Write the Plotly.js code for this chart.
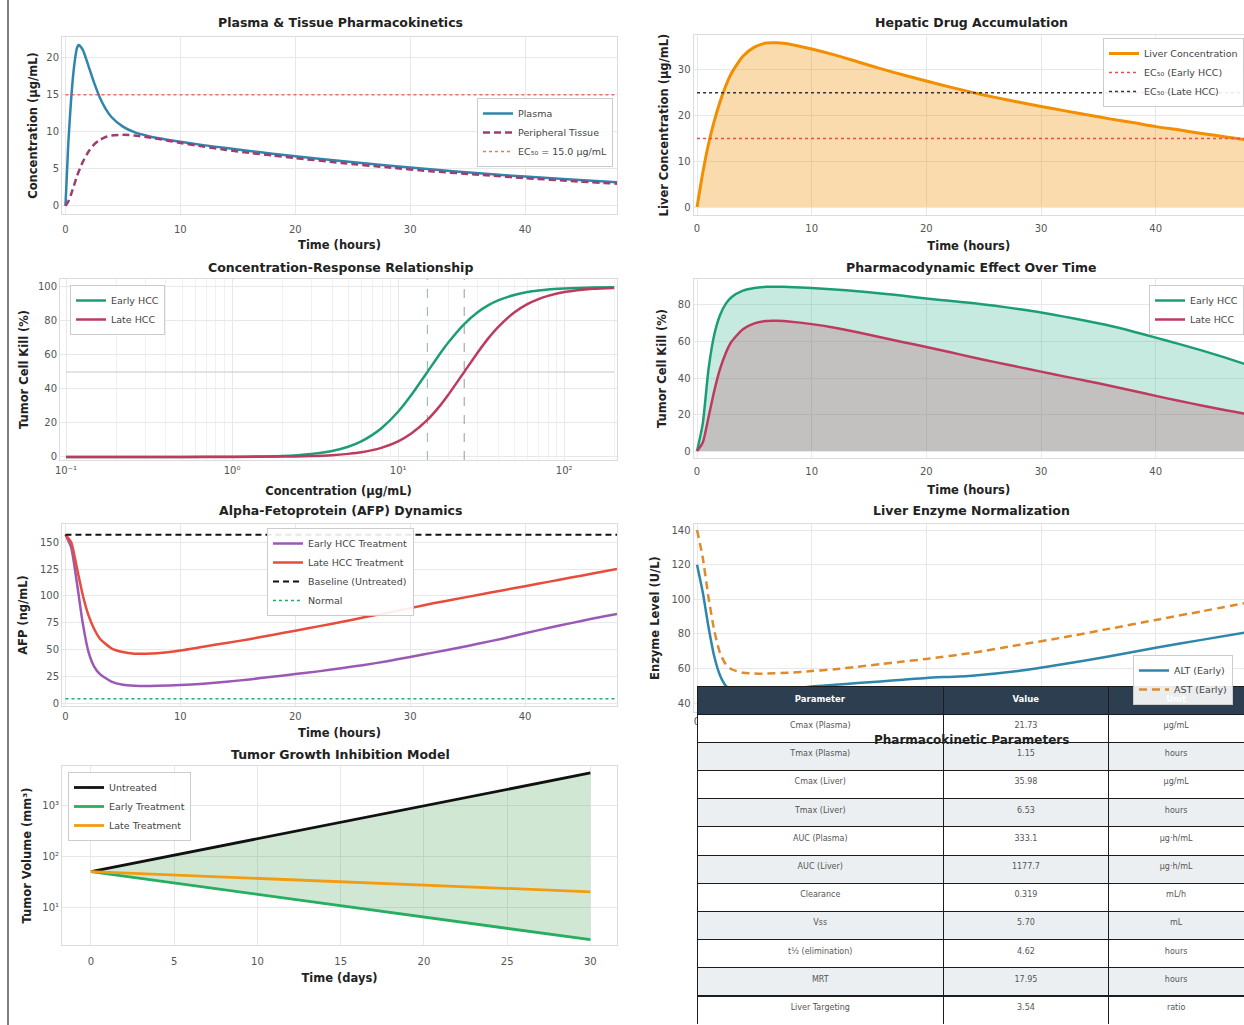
<!DOCTYPE html>
<html>
<head>
<meta charset="utf-8">
<script src="https://cdn.plot.ly/plotly-3.0.1.min.js"></script>
<style>
  html, body { margin: 0; padding: 0; background: #fff; overflow: hidden; }
  #chart { width: 1244px; height: 1025px; }
</style>
</head>
<body>
<div id="chart"></div>
<script>
// ---------- Data ----------
// Plasma / peripheral tissue PK (hours, ug/mL)
const tPK = [0,0.25,0.5,0.75,1,1.15,1.5,2,2.5,3,3.5,4,5,6,7,8,10,12,14,16,18,20,24,28,32,36,40,44,48];
const plasmaConc = [0,8.5,14.5,18.8,21.3,21.73,21.1,18.9,16.6,14.6,13.1,12.0,10.7,9.95,9.5,9.15,8.65,8.2,7.8,7.4,7.05,6.7,6.05,5.45,4.9,4.4,3.95,3.55,3.2];
const tissueConc = [0,0.6,1.6,2.8,4.0,4.6,5.9,7.3,8.3,8.9,9.3,9.5,9.6,9.5,9.3,9.05,8.5,8.0,7.55,7.15,6.8,6.45,5.8,5.2,4.65,4.2,3.75,3.35,3.0];

// Potency thresholds (ug/mL)
const EC50_EARLY = 15;
const EC50_LATE = 25;

// Liver concentration and resulting tumour cell kill (hours)
const tLiver = [0,0.5,1,1.5,2,2.5,3,4,5,6,6.53,7,8,10,12,14,16,18,20,22,24,26,28,30,32,34,36,38,40,42,44,46,48];
const liverConc = [0,7.5,13.8,18.8,23.0,26.5,29.3,33.0,35.0,35.9,35.98,35.95,35.7,34.6,33.3,31.8,30.3,28.9,27.6,26.3,25.1,24.0,23.0,22.0,21.1,20.2,19.3,18.5,17.6,16.9,16.1,15.4,14.7];
const killEarlyTime = [0,15.0,44.8,63.7,74.4,80.6,84.2,87.8,89.3,89.9,90.0,90.0,89.8,89.3,88.5,87.5,86.3,85.0,83.5,82.3,81.0,79.5,77.8,75.9,73.6,71.2,68.6,65.5,62.1,58.7,55.1,51.3,47.2];
const killLateTime = [0,4.7,18.5,32.9,44.8,53.6,59.8,66.7,69.9,71.2,71.4,71.3,70.9,69.5,67.5,65.0,62.3,59.6,57.0,54.2,51.4,48.7,46.1,43.5,40.9,38.4,35.8,33.0,30.2,27.5,25.0,22.5,20.2];

// Concentration-response (ug/mL, % kill)
const concGrid = [0.1,0.2,0.5,1,2,3,4,5,6,7,8,10,12,15,18,20,25,30,35,40,50,60,70,80,100,120,150,200];
const killEarlyConc = [0,0,0.02,0.1,0.6,1.8,3.5,6.0,9.2,13.0,17.2,26.6,36.4,50,61.2,67.2,78.2,85.0,89.3,92.1,95.3,97.0,97.9,98.5,99.1,99.45,99.7,99.85];
const killLateConc = [0,0,0,0.03,0.2,0.5,1.0,1.8,2.7,4.0,5.5,9.2,13.8,21.8,30.5,36.4,50,61.2,69.9,76.4,85.0,89.9,92.9,94.8,97.0,98.1,98.9,99.45];

// AFP dynamics (ng/mL)
const tAFP = [0,0.5,1,1.5,2,2.5,3,4,5,6,7,8,10,12,14,16,18,20,22,24,26,28,30,32,34,36,38,40,42,44,46,48];
const afpEarly = [157,145,112,75,48,34,27,20,17,16,15.8,16,16.8,18,19.8,22,24.5,27,29.5,32.5,35.5,39,43,47,51,55.5,60,65,70,74.5,79,83];
const afpLate = [157,150,126,101,82,69,60,51,47.5,46,46,46.5,49,52.5,56,59.5,63.5,67.5,71.5,75.5,80,84,88.5,93,97,101,105,109,113,117,121,125];
const AFP_BASELINE = 157;
const AFP_NORMAL = 4;

// Liver enzymes (U/L)
const tEnz = [0,0.5,1,1.5,2,2.5,3,4,5,6,8,10,12,14,16,18,20,24,28,32,36,40,44,48];
const altEarly = [120,104,84,67,56,50,47.5,46,46,46.5,48,49.5,50.5,51.5,52.5,53.5,54.5,55.8,58.5,62.5,67,72,76.5,81];
const astEarly = [140,124,101,82,69,62.5,59.5,57.5,57,57,57.5,58.5,59.5,61,62.5,64,65.5,69,73.5,78,83,88,93,98];

// Tumour volume (days, mm^3)
const days = [0,5,10,15,20,25,30];
const volUntreated = [50,106,224,474,1000,2120,4500];
const volEarly = [50,29.8,17.7,10.6,6.3,3.8,2.25];
const volLate = [50,42.9,36.8,31.6,27.1,23.3,20];

// PK parameter table
const paramNames = ['Cmax (Plasma)','Tmax (Plasma)','Cmax (Liver)','Tmax (Liver)','AUC (Plasma)','AUC (Liver)','Clearance','Vss','t½ (elimination)','MRT','Liver Targeting'];
const paramValues = ['21.73','1.15','35.98','6.53','333.1','1177.7','0.319','5.70','4.62','17.95','3.54'];
const paramUnits = ['μg/mL','hours','μg/mL','hours','μg·h/mL','μg·h/mL','mL/h','mL','hours','hours','ratio'];

// ---------- Styling helpers ----------
const W = 1244, H = 1025;
const FONT = 'DejaVu Sans, Liberation Sans, sans-serif';
const px = v => v / W;
const py = v => 1 - v / H;

const C = {
  plasma: '#2E86AB', tissue: '#A23B72', ecRed: '#E0524A', liver: '#F18F01',
  early: '#1B9E77', late: '#BE3A5E', purple: '#9B59B6', red: '#E74C3C',
  green: '#27AE60', alt: '#2E86AB', ast: '#E08A2C', orange: '#F39C12'
};

function axTitle(text, standoff) {
  return {text: '<b>' + text + '</b>', font: {family: FONT, size: 11.5, color: '#222'}, standoff: standoff};
}
function xax(x0, x1, range, extra) {
  return Object.assign({
    domain: [px(x0), Math.min(1, px(x1))], range: range,
    showgrid: true, gridcolor: '#e8e8e8', gridwidth: 1, zeroline: false,
    showline: true, linecolor: '#dcdcdc', linewidth: 1, mirror: true,
    ticks: '', tickfont: {family: FONT, size: 10, color: '#555'}
  }, extra);
}
function yax(y0, y1, range, extra) {
  return Object.assign({
    domain: [py(y1), py(y0)], range: range,
    showgrid: true, gridcolor: '#e8e8e8', gridwidth: 1, zeroline: false,
    showline: true, linecolor: '#dcdcdc', linewidth: 1, mirror: true,
    ticks: '', tickfont: {family: FONT, size: 10, color: '#555'}
  }, extra);
}
function leg(x, y, xanchor) {
  return {
    x: px(x), y: py(y), xanchor: xanchor, yanchor: 'top', traceorder: 'normal',
    bgcolor: 'rgba(255,255,255,0.9)', bordercolor: '#cccccc', borderwidth: 1,
    font: {family: FONT, size: 9.5, color: '#444'}, itemwidth: 30, tracegroupgap: 0
  };
}
function line(x, y, xa, ya, color, opts) {
  const o = opts || {};
  return {
    type: 'scatter', mode: 'lines', x: x, y: y, xaxis: xa, yaxis: ya,
    name: o.name, showlegend: !!o.name, legend: o.legend,
    line: {color: color, width: o.width || 2.5, dash: o.dash || 'solid', shape: o.shape || 'spline', smoothing: 0.6},
    opacity: o.opacity || 1, hoverinfo: 'skip'
  };
}
function fillTo(x, y, xa, ya, color, fill) {
  return {
    type: 'scatter', mode: 'lines', x: x, y: y, xaxis: xa, yaxis: ya,
    fill: fill || 'tozeroy', fillcolor: color, showlegend: false,
    line: {width: 0, shape: 'spline', smoothing: 0.6}, hoverinfo: 'skip'
  };
}

// Axis ranges
const R1x = [-0.3, 48], R1y = [-1.1, 22.8];
const R2x = [-0.3, 47.7], R2y = [-1.75, 37.66];
const R3x = [Math.log10(0.092), Math.log10(208)], R3y = [-1.8, 104.7];
const R4y = [-3.8, 94.2];
const R5y = [-2.8, 167];
const R6y = [34.8, 143.5];
const R7x = [-1.74, 31.6], R7y = [0.248, 3.79];
const hrsSpan = [0, 48];

const traces = [];

// Panel 1: plasma & tissue
traces.push(line(tPK, plasmaConc, 'x', 'y', C.plasma, {name: 'Plasma', legend: 'legend'}));
traces.push(line(tPK, tissueConc, 'x', 'y', C.tissue, {name: 'Peripheral Tissue', legend: 'legend', dash: '7px,4px'}));
traces.push(line(hrsSpan, [EC50_EARLY, EC50_EARLY], 'x', 'y', C.ecRed, {name: 'EC₅₀ = 15.0 μg/mL', legend: 'legend', dash: 'dot', width: 1.6, shape: 'linear', opacity: 0.8}));

// Panel 2: hepatic accumulation
traces.push(fillTo(tLiver, liverConc, 'x2', 'y2', 'rgba(241,143,1,0.32)'));
traces.push(line(tLiver, liverConc, 'x2', 'y2', C.liver, {name: 'Liver Concentration', legend: 'legend2', width: 3}));
traces.push(line(hrsSpan, [EC50_EARLY, EC50_EARLY], 'x2', 'y2', C.ecRed, {name: 'EC₅₀ (Early HCC)', legend: 'legend2', dash: 'dot', width: 1.6, shape: 'linear'}));
traces.push(line(hrsSpan, [EC50_LATE, EC50_LATE], 'x2', 'y2', '#333', {name: 'EC₅₀ (Late HCC)', legend: 'legend2', dash: 'dot', width: 1.6, shape: 'linear'}));

// Panel 3: concentration-response
traces.push(line([concGrid[0], concGrid[concGrid.length - 1]], [50, 50], 'x3', 'y3', '#c8c8c8', {width: 1, shape: 'linear'}));
traces.push(line([EC50_EARLY, EC50_EARLY], R3y, 'x3', 'y3', '#8fb2ab', {width: 1, dash: 'dash', shape: 'linear'}));
traces.push(line([EC50_LATE, EC50_LATE], R3y, 'x3', 'y3', '#9a9a9a', {width: 1, dash: 'dash', shape: 'linear'}));
traces.push(line(concGrid, killEarlyConc, 'x3', 'y3', C.early, {name: 'Early HCC', legend: 'legend3'}));
traces.push(line(concGrid, killLateConc, 'x3', 'y3', C.late, {name: 'Late HCC', legend: 'legend3'}));

// Panel 4: PD effect over time
traces.push(fillTo(tLiver, killEarlyTime, 'x4', 'y4', 'rgba(27,170,130,0.25)'));
traces.push(fillTo(tLiver, killLateTime, 'x4', 'y4', 'rgba(190,58,94,0.24)'));
traces.push(line(tLiver, killEarlyTime, 'x4', 'y4', C.early, {name: 'Early HCC', legend: 'legend4'}));
traces.push(line(tLiver, killLateTime, 'x4', 'y4', C.late, {name: 'Late HCC', legend: 'legend4'}));

// Panel 5: AFP
traces.push(line(tAFP, afpEarly, 'x5', 'y5', C.purple, {name: 'Early HCC Treatment', legend: 'legend5'}));
traces.push(line(tAFP, afpLate, 'x5', 'y5', C.red, {name: 'Late HCC Treatment', legend: 'legend5'}));
traces.push(line(hrsSpan, [AFP_BASELINE, AFP_BASELINE], 'x5', 'y5', '#111', {name: 'Baseline (Untreated)', legend: 'legend5', dash: '6px,4px', width: 2, shape: 'linear'}));
traces.push(line(hrsSpan, [AFP_NORMAL, AFP_NORMAL], 'x5', 'y5', C.green, {name: 'Normal', legend: 'legend5', dash: 'dot', width: 1.6, shape: 'linear'}));

// Panel 6: liver enzymes
traces.push(line(tEnz, altEarly, 'x6', 'y6', C.alt, {name: 'ALT (Early)', legend: 'legend6'}));
traces.push(line(tEnz, astEarly, 'x6', 'y6', C.ast, {name: 'AST (Early)', legend: 'legend6', dash: '8px,5px'}));

// Panel 7: tumour growth (shaded band between untreated and early treatment)
traces.push(Object.assign(fillTo(days, volUntreated, 'x7', 'y7', 'rgba(0,0,0,0)', 'none'), {line: {width: 0}}));
traces.push(Object.assign(fillTo(days, volEarly, 'x7', 'y7', 'rgba(60,160,70,0.24)', 'tonexty'), {line: {width: 0}}));
traces.push(line(days, volUntreated, 'x7', 'y7', '#111', {name: 'Untreated', legend: 'legend7', shape: 'linear', width: 2.8}));
traces.push(line(days, volEarly, 'x7', 'y7', C.green, {name: 'Early Treatment', legend: 'legend7', shape: 'linear', width: 2.8}));
traces.push(line(days, volLate, 'x7', 'y7', C.orange, {name: 'Late Treatment', legend: 'legend7', shape: 'linear', width: 2.8}));

// PK parameter table
const rowFill = paramNames.map((_, i) => (i % 2 === 0 ? '#ffffff' : '#eceff1'));
traces.push({
  type: 'table',
  domain: {x: [px(697), 1], y: [0, py(686)]},
  columnwidth: [247, 165, 136],
  header: {
    values: ['<b>Parameter</b>', '<b>Value</b>', '<b>Unit</b>'],
    fill: {color: '#2c3e50'}, line: {color: '#1c1c1c', width: 1},
    font: {family: FONT, size: 8.5, color: '#ffffff'}, align: 'center', height: 28
  },
  cells: {
    values: [paramNames, paramValues, paramUnits],
    fill: {color: [rowFill, rowFill, rowFill]}, line: {color: '#1c1c1c', width: 1},
    font: {family: FONT, size: 8, color: '#555'}, align: 'center', height: 28.2
  }
});

// Panel titles
function title(text, x, y, size) {
  return {text: '<b>' + text + '</b>', x: px(x), y: py(y), xref: 'paper', yref: 'paper',
    xanchor: 'center', yanchor: 'middle', showarrow: false, borderpad: 0,
    font: {family: FONT, size: size || 12.5, color: '#222'}};
}

const xHours = {dtick: 10, tick0: 0};
const layout = {
  width: W, height: H, margin: {l: 0, r: 0, t: 0, b: 0},
  paper_bgcolor: '#ffffff', plot_bgcolor: '#ffffff',
  font: {family: FONT},
  xaxis:  xax(62, 617, R1x, Object.assign({anchor: 'y', ticklabelstandoff: 6, title: axTitle('Time (hours)', 6)}, xHours)),
  yaxis:  yax(37, 214, R1y, {anchor: 'x', dtick: 5, title: axTitle('Concentration (μg/mL)', 6)}),
  xaxis2: xax(693.6, 1244, R2x, Object.assign({anchor: 'y2', ticklabelstandoff: 4, title: axTitle('Time (hours)', 8)}, xHours)),
  yaxis2: yax(35, 215, R2y, {anchor: 'x2', dtick: 10, title: axTitle('Liver Concentration (μg/mL)', 6)}),
  xaxis3: xax(60, 617, R3x, {anchor: 'y3', type: 'log', tickmode: 'array', ticklabelstandoff: 1,
    tickvals: [0.1, 1, 10, 100], ticktext: ['10⁻¹', '10⁰', '10¹', '10²'],
    minor: {showgrid: true, gridcolor: '#f1f1f1', tickmode: 'array',
      tickvals: [0.2,0.3,0.4,0.5,0.6,0.7,0.8,0.9,2,3,4,5,6,7,8,9,20,30,40,50,60,70,80,90,200]},
    title: axTitle('Concentration (μg/mL)', 11)}),
  yaxis3: yax(279, 460, R3y, {anchor: 'x3', dtick: 20, title: axTitle('Tumor Cell Kill (%)', 6)}),
  xaxis4: xax(693.6, 1244, R2x, Object.assign({anchor: 'y4', ticklabelstandoff: 4, title: axTitle('Time (hours)', 9)}, xHours)),
  yaxis4: yax(279, 458, R4y, {anchor: 'x4', dtick: 20, title: axTitle('Tumor Cell Kill (%)', 8)}),
  xaxis5: xax(62, 617, R1x, Object.assign({anchor: 'y5', ticklabelstandoff: 1, title: axTitle('Time (hours)', 7)}, xHours)),
  yaxis5: yax(524, 706, R5y, {anchor: 'x5', dtick: 25, title: axTitle('AFP (ng/mL)', 9)}),
  xaxis6: xax(693.6, 1244, R2x, Object.assign({anchor: 'y6'}, xHours)),
  yaxis6: yax(524, 712, R6y, {anchor: 'x6', dtick: 20, title: axTitle('Enzyme Level (U/L)', 9)}),
  xaxis7: xax(62, 617, R7x, {anchor: 'y7', dtick: 5, tick0: 0, ticklabelstandoff: 7, title: axTitle('Time (days)', 7)}),
  yaxis7: yax(766, 945, R7y, {anchor: 'x7', type: 'log', tickmode: 'array',
    tickvals: [10, 100, 1000], ticktext: ['10¹', '10²', '10³'],
    title: axTitle('Tumor Volume (mm³)', 8)}),
  legend:  leg(613, 98, 'right'),
  legend2: leg(1244, 38, 'right'),
  legend3: leg(70, 285, 'left'),
  legend4: leg(1244, 285, 'right'),
  legend5: leg(267, 528, 'left'),
  legend6: leg(1133, 655, 'left'),
  legend7: leg(68, 772, 'left'),
  annotations: [
    title('Plasma &amp; Tissue Pharmacokinetics', 340, 22),
    title('Hepatic Drug Accumulation', 971, 22),
    title('Concentration-Response Relationship', 340, 267),
    title('Pharmacodynamic Effect Over Time', 971, 267),
    title('Alpha-Fetoprotein (AFP) Dynamics', 340, 510),
    title('Liver Enzyme Normalization', 971, 510),
    title('Tumor Growth Inhibition Model', 340, 754),
    title('Pharmacokinetic Parameters', 971, 740, 12)
  ],
  shapes: [
    {type: 'line', xref: 'paper', yref: 'paper', x0: px(8), x1: px(8), y0: 0, y1: 1,
     line: {color: '#555555', width: 1.5}}
  ]
};

Plotly.newPlot('chart', traces, layout, {staticPlot: true, displayModeBar: false});
</script>
</body>
</html>
